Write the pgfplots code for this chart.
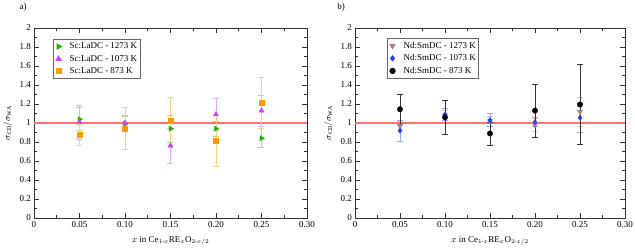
\documentclass[border=0pt]{standalone}
\usepackage{amsmath}
\usepackage{pgfplots}
\pgfplotsset{compat=1.18}
\usepackage{fontspec}
\setmainfont{Liberation Serif}
\definecolor{cgreen}{HTML}{22B000}
\definecolor{cgreenL}{HTML}{9EE090}
\definecolor{cpurple}{HTML}{CC44FF}
\definecolor{cpurpleL}{HTML}{E4A8FF}
\definecolor{corange}{HTML}{FF9900}
\definecolor{corangeL}{HTML}{FFCF80}
\definecolor{cmauve}{HTML}{B07888}
\definecolor{cmauveL}{HTML}{E8C0CA}
\definecolor{cblue}{HTML}{2040FF}
\definecolor{cblueL}{HTML}{98A8FF}
\definecolor{cred}{HTML}{FF7070}
\begin{document}
\fontsize{9}{11}\selectfont
\begin{tikzpicture}
\useasboundingbox (0pt,0pt) rectangle (635pt,249pt);
\pgfplotsset{myax/.style={
  scale only axis, height=190pt,
  xmin=0, xmax=0.30, ymin=0, ymax=2,
  xtick={0,0.05,0.10,0.15,0.20,0.25,0.30},
  xticklabels={0,0.05,0.10,0.15,0.20,0.25,0.30},
  ytick={0,0.2,0.4,0.6,0.8,1,1.2,1.4,1.6,1.8,2},
  yticklabels={0,0.2,0.4,0.6,0.8,1,1.2,1.4,1.6,1.8,2},
  minor x tick num=1, minor y tick num=1,
  tick align=inside,
  major tick length=5pt, minor tick length=3pt,
  axis line style={black!80, line width=0.6pt},
  every tick/.style={black!80, line width=0.5pt},
  tick label style={font=\fontsize{9}{11}\selectfont},
  label style={font=\fontsize{9}{11}\selectfont},
  xlabel={$x$ in Ce$_{1\text{-}x}$RE$_x$O$_{2\text{-}x/2}$},
  ylabel={$\sigma_{\mathrm{CD}}/\sigma_{\mathrm{WA}}$},
  xlabel style={yshift=-3pt},
  ylabel style={yshift=1pt},
  legend cell align=left,
  legend style={draw=black!60, line width=0.8pt, font=\fontsize{9}{10}\selectfont,
    inner xsep=1pt, inner ysep=1.5pt, row sep=1pt},
  legend image code/.code={
    \path[draw=none, fill=none] (-4pt,-3pt) rectangle (9pt,3pt);
    \draw[mark repeat=1,#1] plot coordinates {(0pt,0pt)};},
  error bars/error mark options={rotate=90, mark size=3pt, line width=0.6pt},
}}
\begin{axis}[myax, at={(34pt,31pt)}, width=273pt,
  legend style={at={(0.07,0.942)}, anchor=north west}]
\addplot[cred, line width=1.6pt, forget plot] coordinates {(0,1) (0.30,1)};
\addplot[only marks, mark=triangle*, mark size=3pt, mark options={rotate=-90, cgreen, fill=cgreen},
  error bars/.cd, y dir=both, y explicit, error bar style={cgreenL, line width=0.6pt}]
  table[x=x, y=y, y error=e] {
x y e
0.05 1.04 0.12
0.10 0.99 0.08
0.15 0.94 0.14
0.20 0.94 0.08
0.25 0.84 0.10
};
\addlegendentry{Sc:LaDC - 1273 K}
\addplot[only marks, mark=triangle*, mark size=3pt, mark options={cpurple, fill=cpurple},
  error bars/.cd, y dir=both, y explicit, error bar style={cpurpleL, line width=0.6pt}]
  table[x=x, y=y, y error=e] {
x y e
0.05 1.01 0.18
0.10 1.00 0.08
0.15 0.76 0.18
0.20 1.09 0.17
0.25 1.13 0.16
};
\addlegendentry{Sc:LaDC - 1073 K}
\addplot[only marks, mark=square*, mark size=2.4pt, mark options={corange, fill=corange},
  error bars/.cd, y dir=both, y explicit, error bar style={corangeL, line width=0.6pt}]
  table[x=x, y=y, y error=e] {
x y e
0.05 0.88 0.11
0.10 0.94 0.22
0.15 1.02 0.25
0.20 0.81 0.27
0.25 1.21 0.27
};
\addlegendentry{Sc:LaDC - 873 K}
\end{axis}
\begin{axis}[myax, at={(355pt,31pt)}, width=270pt,
  legend style={at={(0.119,0.947)}, anchor=north west}]
\addplot[cred, line width=1.6pt, forget plot] coordinates {(0,1) (0.30,1)};
\addplot[only marks, mark=triangle*, mark size=3pt, mark options={rotate=180, cmauve, fill=cmauve},
  error bars/.cd, y dir=both, y explicit, error bar style={cmauveL, line width=0.6pt}]
  table[x=x, y=y, y error=e] {
x y e
0.05 0.97 0.05
0.10 1.08 0.05
0.15 1.02 0.05
0.20 0.98 0.07
0.25 1.12 0.15
};
\addlegendentry{Nd:SmDC - 1273 K}
\addplot[only marks, mark=diamond*, mark size=2.6pt, mark options={cblue, fill=cblue},
  error bars/.cd, y dir=both, y explicit, error bar style={cblueL, line width=0.6pt}]
  table[x=x, y=y, y error=e] {
x y e
0.05 0.92 0.11
0.10 1.09 0.06
0.15 1.03 0.07
0.20 1.01 0.05
0.25 1.055 0.15
};
\addlegendentry{Nd:SmDC - 1073 K}
\addplot[only marks, mark=*, mark size=2.7pt, mark options={black, fill=black},
  error bars/.cd, y dir=both, y explicit, error bar style={black!80, line width=0.6pt}]
  table[x=x, y=y, y error=e] {
x y e
0.05 1.145 0.16
0.10 1.06 0.175
0.15 0.89 0.12
0.20 1.13 0.28
0.25 1.195 0.42
};
\addlegendentry{Nd:SmDC - 873 K}
\end{axis}
\node[font=\fontsize{9}{11}\selectfont] at (23pt,242pt) {a)};
\node[font=\fontsize{9}{11}\selectfont] at (341pt,242pt) {b)};
\end{tikzpicture}
\end{document}
